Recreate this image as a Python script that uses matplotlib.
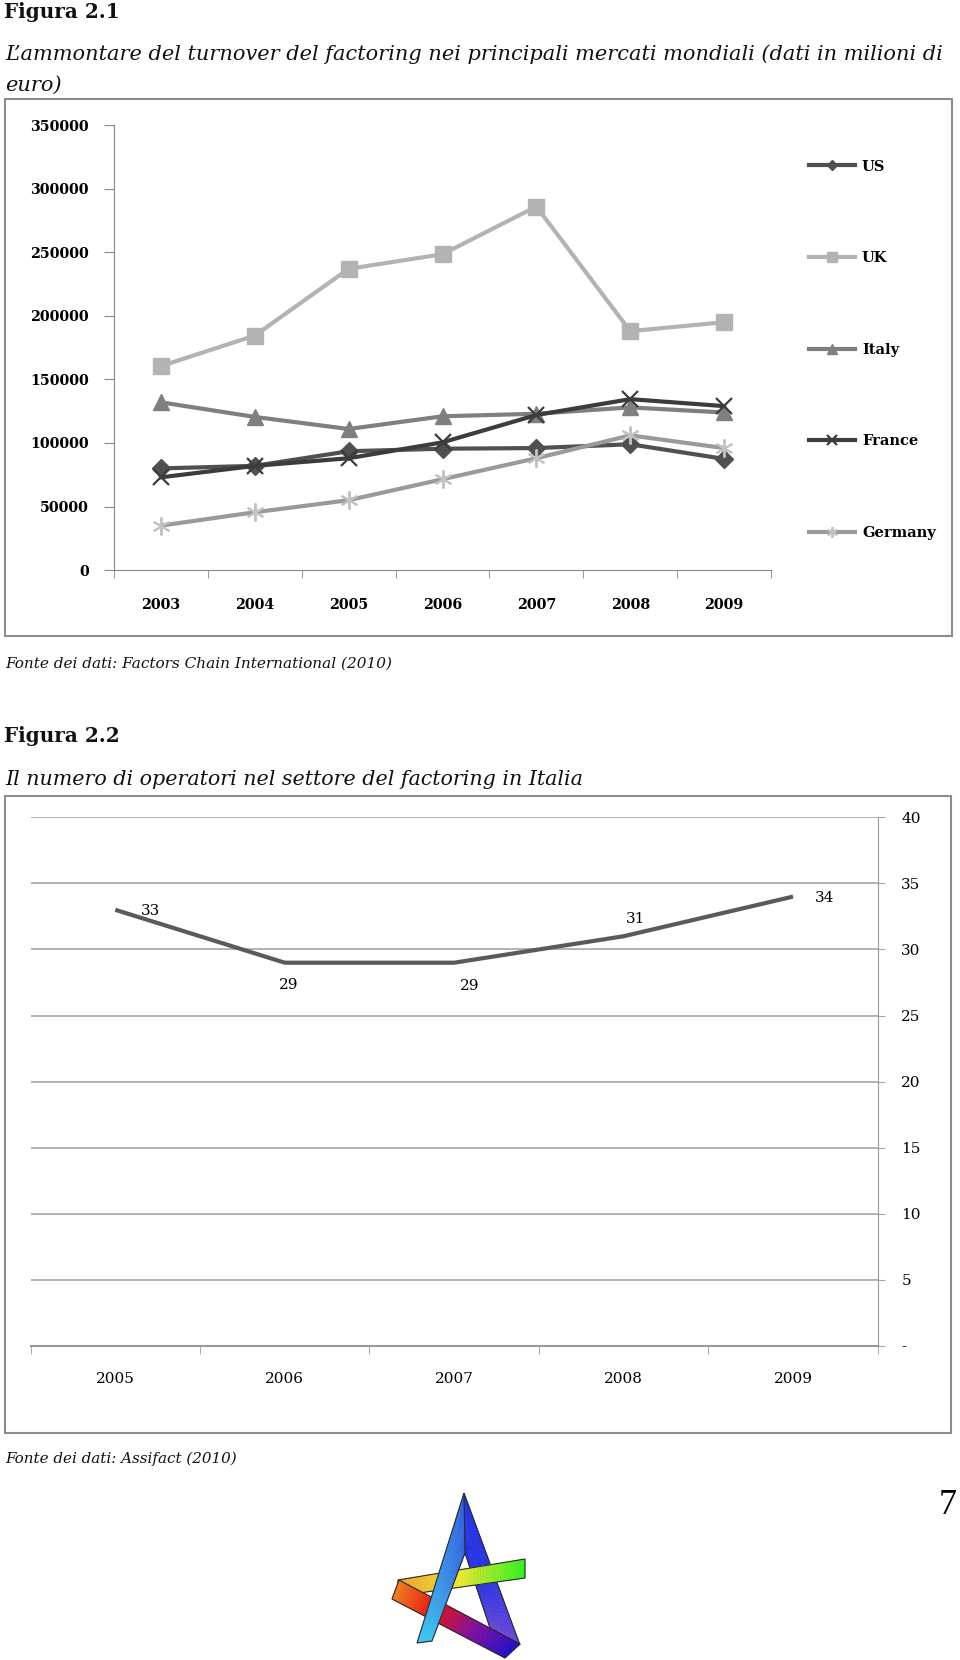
import matplotlib.pyplot as plt
import numpy as np
from matplotlib.patches import Rectangle, Polygon
from matplotlib.colors import LinearSegmentedColormap

plt.rcParams['font.family'] = 'DejaVu Serif'

# --- data, figura 2.1 (milioni di euro) ---
years1 = ['2003', '2004', '2005', '2006', '2007', '2008', '2009']
us = [80000, 82000, 93500, 95500, 96000, 99000, 87500]
uk = [160500, 184500, 237000, 248500, 286000, 188000, 195000]
italy = [132000, 120500, 111000, 121000, 123000, 128000, 124000]
france = [73000, 82000, 88000, 100500, 122000, 134500, 129000]
germany = [35000, 45500, 55000, 71500, 88000, 106000, 96000]

# --- data, figura 2.2 ---
years2 = ['2005', '2006', '2007', '2008', '2009']
operatori = [33, 29, 29, 31, 34]
label_off = [(35, -1), (4, -22), (16, -23), (12, 17), (32, -1)]

W, H = 960, 1660
fig = plt.figure(figsize=(9.6, 16.6), dpi=100)


def fx(x):
    return x / W


def fy(y):
    return 1 - y / H


def rect(x0, y0, x1, y1):
    return [fx(x0), fy(y1), fx(x1) - fx(x0), fy(y0) - fy(y1)]


# page layer in pixel coords (y down)
bg = fig.add_axes([0, 0, 1, 1], zorder=0)
bg.set_xlim(0, W)
bg.set_ylim(H, 0)
bg.axis('off')

rend = fig.canvas.get_renderer()


def put(x, y, s, width=None, **kw):
    t = bg.text(x, y, s, va='center', ha='left', color='#111111', **kw)
    if width:
        w = t.get_window_extent(rend).width
        t.set_fontsize(t.get_fontsize() * width / w)
    return t


put(4, 12, 'Figura 2.1', width=116, fontsize=14, fontweight='bold')
t = put(5, 54, 'L\u2019ammontare del turnover del factoring nei principali mercati mondiali (dati in milioni di',
        width=940, fontsize=14, style='italic')
put(5, 85, 'euro)', fontsize=t.get_fontsize(), style='italic')
put(5, 664, 'Fonte dei dati: Factors Chain International (2010)', width=387, fontsize=11, style='italic')
put(4, 736, 'Figura 2.2', width=116, fontsize=14, fontweight='bold')
put(5, 779, 'Il numero di operatori nel settore del factoring in Italia', width=582, fontsize=14, style='italic')
put(5, 1459, 'Fonte dei dati: Assifact (2010)', width=232, fontsize=11, style='italic')
bg.text(948, 1505, '7', ha='center', va='center', fontsize=26, family='Liberation Serif')

bg.add_patch(Rectangle((5, 99), 947, 537, fill=False, ec='#8c8c8c', lw=1.5))
bg.add_patch(Rectangle((5, 796), 946, 637, fill=False, ec='#8c8c8c', lw=1.5))


# logo: coloured ribbons
def ribbon(a0, a1, b0, b1, colors, n=40):
    cmap = LinearSegmentedColormap.from_list('r', colors)
    a0, a1, b0, b1 = map(np.array, (a0, a1, b0, b1))
    for i in range(n):
        t0, t1 = i / n, (i + 1) / n
        q = [a0 + (a1 - a0) * t0, a0 + (a1 - a0) * t1, b0 + (b1 - b0) * t1, b0 + (b1 - b0) * t0]
        c = cmap((t0 + t1) / 2)
        bg.add_patch(Polygon(q, closed=True, fc=c, ec=c, lw=0.4))
    bg.add_patch(Polygon([a0, a1, b1, b0], closed=True, fill=False, ec='#2a2a2a', lw=0.8))


ribbon((464, 1493), (520, 1645), (465, 1553), (490, 1628), ['#1f2fe8', '#2a35e0', '#6a48d8'])
ribbon((398, 1580), (525, 1559), (398, 1596), (525, 1578), ['#f0a030', '#e8e830', '#30f020'])
ribbon((399, 1580), (520, 1644), (392, 1599), (505, 1658), ['#f08020', '#e81010', '#8010a0', '#2010c8'])
ribbon((417, 1643), (464, 1493), (432, 1641), (465, 1553), ['#3cc8f0', '#3a90e8', '#2f5fe0'])

# ---------------- Figura 2.1 ----------------
ax1 = fig.add_axes(rect(114, 125.2, 771, 570.1), zorder=2)
ax1.set_facecolor('none')
x1 = np.arange(len(years1))
series = [
    ('US', us, '#505050', 'D', 9, '#505050', 1),
    ('UK', uk, '#b3b3b3', 's', 12, '#b3b3b3', 1),
    ('Italy', italy, '#7f7f7f', '^', 11, '#7f7f7f', 1),
    ('France', france, '#3c3c3c', 'x', 11, '#3c3c3c', 1.6),
    ('Germany', germany, '#9a9a9a', (6, 2, 0), 13, '#c2c2c2', 1.4),
]
for name, vals, col, mk, ms, mc, mew in series:
    ax1.plot(x1, vals, color=col, lw=3, marker=mk, ms=ms, mfc=mc, mec=mc, mew=mew,
             label=name, clip_on=False)

ax1.set_xlim(-0.5, 6.5)
ax1.set_ylim(0, 350000)
ax1.set_yticks(np.arange(0, 350001, 50000))
ax1.set_yticklabels([str(v) for v in range(0, 350001, 50000)])
ax1.set_xticks(x1)
ax1.set_xticklabels(years1)
ax1.set_xticks(np.arange(-0.5, 7, 1), minor=True)
ax1.tick_params(axis='x', which='major', length=0, pad=20)
ax1.tick_params(axis='x', which='minor', length=6, color='#888888')
ax1.tick_params(axis='y', length=7, color='#888888', pad=11)
for lab in ax1.get_xticklabels() + ax1.get_yticklabels():
    lab.set_fontweight('bold')
    lab.set_fontsize(10.3)
ax1.spines['top'].set_visible(False)
ax1.spines['right'].set_visible(False)
ax1.spines['left'].set_color('#888888')
ax1.spines['bottom'].set_color('#888888')

fig.legend(loc='center left', bbox_to_anchor=(fx(809), fy(349.7)), frameon=False,
           prop={'weight': 'bold', 'size': 10.5}, handlelength=3.15, handletextpad=0.48,
           labelspacing=5.32, borderpad=0, borderaxespad=0, markerscale=0.6)

# ---------------- Figura 2.2 ----------------
ax2 = fig.add_axes(rect(30.6, 817.3, 877.7, 1346), zorder=2)
ax2.set_facecolor('none')
x2 = np.arange(len(years2))
ax2.plot(x2, operatori, color='#5a5a5a', lw=3, solid_capstyle='butt')
for xi, v, off in zip(x2, operatori, label_off):
    ax2.annotate(str(v), (xi, v), xytext=off, textcoords='offset pixels',
                 ha='center', va='center', fontsize=11)

ax2.set_xlim(-0.5, 4.5)
ax2.set_ylim(0, 40)
ax2.yaxis.tick_right()
ax2.set_yticks(np.arange(0, 41, 5))
ax2.set_yticklabels(['-'] + [str(v) for v in range(5, 41, 5)])
ax2.grid(axis='y', color='#a6a6a6', lw=1.2)
ax2.set_axisbelow(True)
ax2.set_xticks(x2)
ax2.set_xticklabels(years2)
ax2.set_xticks(np.arange(-0.5, 5, 1), minor=True)
ax2.tick_params(axis='x', which='major', length=0, pad=19, labelsize=11)
ax2.tick_params(axis='x', which='minor', length=6, color='#999999')
ax2.tick_params(axis='y', length=5, color='#a6a6a6', pad=12, labelsize=11)
ax2.spines['top'].set_visible(False)
ax2.spines['left'].set_visible(False)
ax2.spines['right'].set_color('#999999')
ax2.spines['bottom'].set_color('#999999')
ax2.spines['bottom'].set_linewidth(1.5)

fig.savefig('out.png', dpi=100)
